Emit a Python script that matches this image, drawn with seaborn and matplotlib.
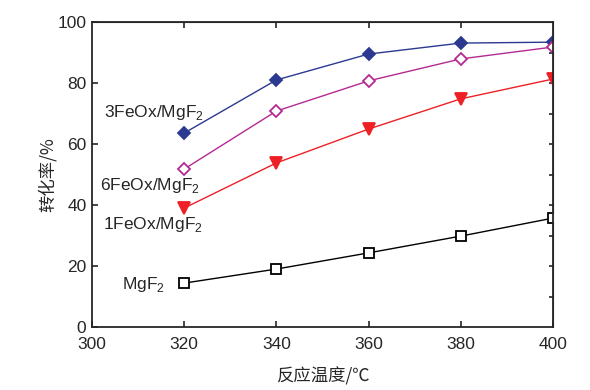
import seaborn as sns
import pandas as pd
import matplotlib.pyplot as plt

temps = [320, 340, 360, 380, 400]
fe3 = [63.6, 81.0, 89.5, 93.1, 93.4]
fe6 = [51.8, 70.8, 80.7, 87.9, 91.8]
fe1 = [39.0, 53.8, 64.9, 74.8, 81.3]
mgf2 = [14.4, 19.0, 24.3, 29.8, 35.7]

sns.set_style('ticks')
plt.rcParams['font.family'] = ['Liberation Sans', 'Noto Sans CJK SC', 'DejaVu Sans']
plt.rcParams['mathtext.fontset'] = 'custom'
plt.rcParams['mathtext.rm'] = 'Liberation Sans'

fig = plt.figure(figsize=(5.9, 3.9), dpi=100)
ax = fig.add_axes([0.156, 0.1615, 0.781, 0.782])

series = [
    (fe3, '#2B3990', 'D', True, 6),
    (fe6, '#B42A92', 'D', False, 6),
    (fe1, '#EE2026', 'v', True, 8),
    (mgf2, '#000000', 's', False, 7),
]
for vals, col, mk, filled, ms in series:
    df = pd.DataFrame({'T': temps, 'X': vals})
    sns.lineplot(data=df, x='T', y='X', ax=ax, color=col, lw=1.0,
                 marker=mk, markersize=ms, markeredgewidth=1.3,
                 markerfacecolor=col if filled else 'white',
                 markeredgecolor=col)

ax.set_xlim(300, 400)
ax.set_ylim(0, 100)
ax.set_xticks([300, 320, 340, 360, 380, 400])
ax.set_yticks([0, 20, 40, 60, 80, 100])
ax.tick_params(axis='both', labelsize=12.5, width=1.2, length=4, direction='in')
ax.tick_params(axis='x', pad=7)
ax.tick_params(axis='y', pad=4)

for s in ax.spines.values():
    s.set_linewidth(1.3)

# inner ticks on top / right spines
top = ax.secondary_xaxis('top')
top.set_xticks([320, 340, 360, 380])
top.tick_params(direction='in', length=4, width=1.2, labeltop=False)
right = ax.secondary_yaxis('right')
right.set_yticks([10, 20, 30, 40, 50, 60, 70, 80, 90])
right.tick_params(direction='in', length=3, width=1.2, labelright=False)

ax.set_xlabel('反应温度/℃', fontsize=12.5, family=['Noto Sans CJK SC', 'DejaVu Sans'], labelpad=11)
ax.set_ylabel('转化率/%', fontsize=12.5, family=['Noto Sans CJK SC', 'DejaVu Sans'], labelpad=0.5)

lab_kw = dict(fontsize=12.5, ha='left', va='center')
ax.text(302.6, 70.5, r'3FeOx/MgF$_\mathregular{2}$', **lab_kw)
ax.text(301.8, 46.5, r'6FeOx/MgF$_\mathregular{2}$', **lab_kw)
ax.text(302.4, 33.5, r'1FeOx/MgF$_\mathregular{2}$', **lab_kw)
ax.text(306.5, 13.8, r'MgF$_\mathregular{2}$', **lab_kw)

fig.savefig('out.png', dpi=100)
